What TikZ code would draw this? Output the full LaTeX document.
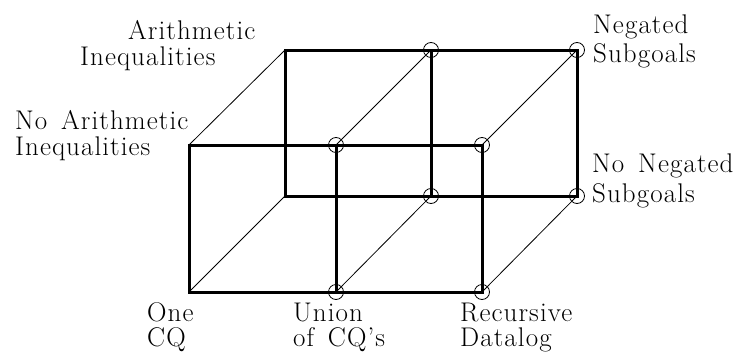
\documentclass[tikz,border=0pt]{standalone}
\usepackage{fontspec}
\setmainfont{Latin Modern Roman}[LetterSpace=4,WordSpace=1.5]
\newcommand\labtwo[3]{\vtop{\baselineskip=#1\lineskiplimit=-100pt\lineskip=0pt
  \hbox{#2}\hbox{#3}}}
\begin{document}
\begin{tikzpicture}[x=1pt,y=-1pt,
  edge/.style={line width=3pt,line join=miter,line cap=rect},
  diag/.style={line width=0.8pt},
  vtx/.style={circle,draw,line width=0.8pt,inner sep=0pt,minimum size=15pt},
  lbl/.style={anchor=base west,inner sep=0pt,font=\fontsize{27}{27}\selectfont}]
\useasboundingbox (0,0) rectangle (741,356);
% front face corners
\coordinate (fa) at (189,145);
\coordinate (fb) at (336,145);
\coordinate (fc) at (482,145);
\coordinate (fd) at (189,292);
\coordinate (fe) at (336,292);
\coordinate (ff) at (482,292);
% back face corners
\coordinate (ba) at (285,50);
\coordinate (bb) at (431,50);
\coordinate (bc) at (577,50);
\coordinate (bd) at (285,196);
\coordinate (be) at (431,196);
\coordinate (bf) at (577,196);
% depth edges
\draw[diag] (fa) -- (ba);
\draw[diag] (fb) -- (bb);
\draw[diag] (fc) -- (bc);
\draw[diag] (fd) -- (bd);
\draw[diag] (fe) -- (be);
\draw[diag] (ff) -- (bf);
% back face
\draw[edge] (ba) -- (bc) -- (bf) -- (bd) -- cycle;
\draw[edge] (bb) -- (be);
% front face
\draw[edge] (fa) -- (fc) -- (ff) -- (fd) -- cycle;
\draw[edge] (fb) -- (fe);
% circles
\foreach \p in {fb,fc,fe,ff,bb,bc,be,bf}
  \node[vtx] (c\p) at (\p) {};
% labels
\node[lbl] (arith) at (80,39) {\labtwo{26pt}{\hspace*{48pt}Arithmetic}{Inequalities}};
\node[lbl] (noarith) at (15,129) {\labtwo{26pt}{No Arithmetic}{Inequalities}};
\node[lbl] (neg) at (593,33) {\labtwo{29pt}{Negated}{Subgoals}};
\node[lbl] (noneg) at (592,172) {\labtwo{30pt}{No Negated}{Subgoals}};
\node[lbl] (one) at (147,321) {\labtwo{25.5pt}{One}{CQ}};
\node[lbl] (union) at (293,321) {\labtwo{25.5pt}{Union}{of CQ's}};
\node[lbl] (rec) at (460,321) {\labtwo{25.5pt}{Recursive}{Datalog}};
\end{tikzpicture}
\end{document}
